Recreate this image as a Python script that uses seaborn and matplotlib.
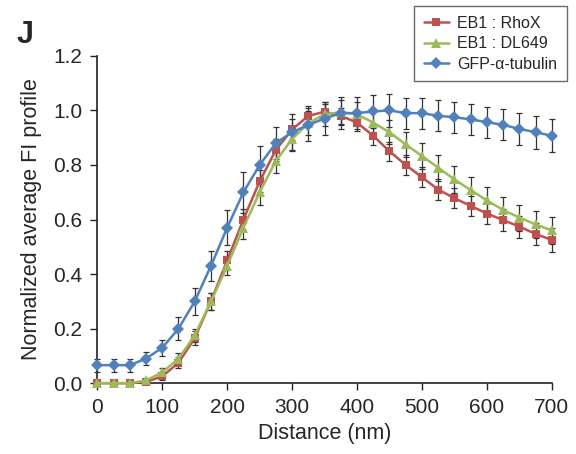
import numpy as np
import pandas as pd
import seaborn as sns
import matplotlib.pyplot as plt

distance = np.arange(0, 701, 25)

rhox = [0.0, 0.0, 0.0, 0.005, 0.025, 0.075, 0.165, 0.30, 0.45, 0.60, 0.74, 0.855, 0.93, 0.98, 0.995,
        0.98, 0.955, 0.907, 0.85, 0.80, 0.755, 0.71, 0.678, 0.65, 0.622, 0.598, 0.574, 0.547, 0.525]
rhox_err = [0.005, 0.005, 0.005, 0.008, 0.012, 0.02, 0.025, 0.03, 0.035, 0.04, 0.04, 0.04, 0.04, 0.035, 0.03,
            0.03, 0.03, 0.035, 0.035, 0.035, 0.037, 0.037, 0.037, 0.037, 0.038, 0.04, 0.04, 0.04, 0.043]

dl649 = [0.0, 0.0, 0.0, 0.01, 0.04, 0.09, 0.175, 0.30, 0.43, 0.57, 0.70, 0.815, 0.895, 0.953, 0.986,
         0.993, 0.986, 0.955, 0.92, 0.875, 0.833, 0.79, 0.747, 0.708, 0.67, 0.635, 0.607, 0.582, 0.56]
dl649_err = [0.005, 0.005, 0.005, 0.008, 0.015, 0.02, 0.025, 0.03, 0.035, 0.04, 0.045, 0.045, 0.045, 0.045, 0.045,
             0.045, 0.045, 0.045, 0.045, 0.047, 0.048, 0.048, 0.048, 0.048, 0.048, 0.048, 0.048, 0.05, 0.05]

tubulin = [0.066, 0.066, 0.066, 0.09, 0.13, 0.20, 0.30, 0.43, 0.57, 0.70, 0.80, 0.88, 0.92, 0.947, 0.97,
           0.99, 0.99, 0.996, 1.0, 0.99, 0.99, 0.98, 0.975, 0.967, 0.957, 0.947, 0.932, 0.92, 0.907]
tubulin_err = [0.024, 0.024, 0.024, 0.024, 0.029, 0.041, 0.049, 0.055, 0.064, 0.076, 0.07, 0.06, 0.067, 0.06, 0.06,
               0.06, 0.06, 0.06, 0.06, 0.057, 0.057, 0.057, 0.057, 0.057, 0.057, 0.057, 0.06, 0.06, 0.06]

names = ["EB1 : RhoX", "EB1 : DL649", "GFP-\u03b1-tubulin"]
colors = ["#C0504D", "#9BBB59", "#4F81BD"]
marks = ["s", "^", "D"]

sns.set_style("ticks")
plt.rcParams['font.family'] = ['Liberation Sans', 'DejaVu Sans']

df = pd.concat([
    pd.DataFrame({"Distance": distance, "value": v, "err": e, "series": n})
    for v, e, n in zip([rhox, dl649, tubulin], [rhox_err, dl649_err, tubulin_err], names)
])

fig = plt.figure(figsize=(5.76, 4.54), dpi=100)
ax = fig.add_axes([0.169, 0.156, 0.789, 0.721])

# error bars first, then lines with markers
for n in names:
    d = df[df.series == n]
    ax.errorbar(d.Distance, d.value, yerr=d.err, fmt="none", ecolor="#333333",
                elinewidth=0.9, capsize=2.2, capthick=0.9, zorder=3, clip_on=False)

sns.lineplot(data=df, x="Distance", y="value", hue="series", style="series",
             hue_order=names, style_order=names, palette=colors, markers=marks,
             dashes=False, linewidth=1.8, markersize=6, markeredgewidth=0,
             ax=ax, zorder=4, clip_on=False)

# triangles look small next to the squares, bump them up a bit
for ln in ax.get_lines():
    if ln.get_marker() == "^":
        ln.set_markersize(7.5)

ax.set_xlim(0, 700)
ax.set_ylim(0, 1.2)
ax.set_xticks(np.arange(0, 701, 100))
ax.set_yticks(np.arange(0, 1.21, 0.2))
ax.set_yticklabels([f"{t:.1f}" for t in np.arange(0, 1.21, 0.2)])
ax.tick_params(labelsize=15, length=5, width=1, color="#222222", pad=6)
for s in ["left", "bottom"]:
    ax.spines[s].set_color("#222222")
    ax.spines[s].set_linewidth(1.2)
sns.despine(ax=ax)

ax.set_xlabel("Distance (nm)", fontsize=15.5, labelpad=4)
ax.set_ylabel("Normalized average FI profile", fontsize=15.5, labelpad=8)

leg = ax.legend(loc="upper left", bbox_to_anchor=(0.697, 1.152), fontsize=11.5,
                frameon=True, fancybox=False, edgecolor="#444444", handlelength=1.6,
                borderpad=0.6, labelspacing=0.35, handletextpad=0.5, borderaxespad=0)
leg.get_frame().set_linewidth(1.0)

fig.text(0.028, 0.905, "J", fontsize=22, fontweight="bold")

fig.savefig("out.png", dpi=100)
